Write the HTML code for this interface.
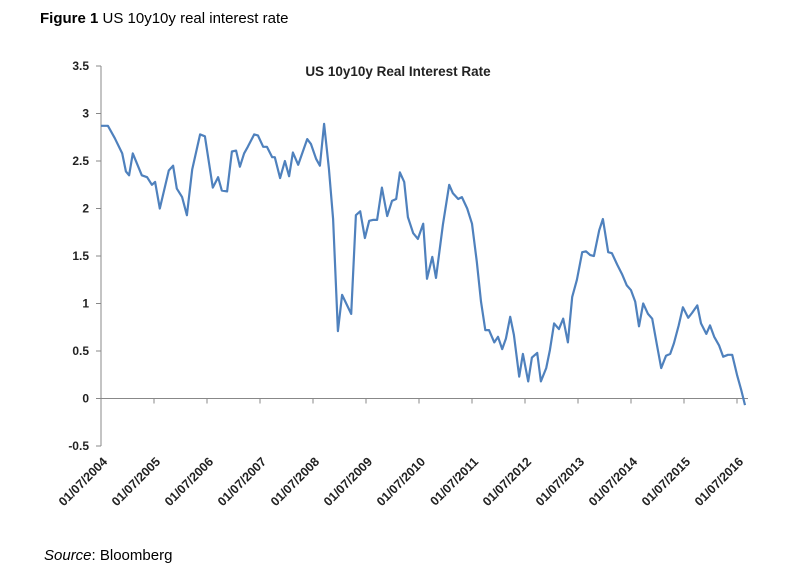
<!DOCTYPE html>
<html><head><meta charset="utf-8"><style>
body{margin:0;width:809px;height:576px;background:#fff;overflow:hidden;font-family:"Liberation Sans",Arial,sans-serif;}
#fig{position:absolute;left:40px;top:10px;font-size:15px;color:#000;}
#src{position:absolute;left:44px;top:547px;font-size:15px;color:#000;}
svg{position:absolute;left:0;top:0;}
</style></head><body>
<div id="fig"><b>Figure 1</b> US 10y10y real interest rate</div>
<svg id="chart" width="809" height="576"></svg>
<div id="src"><i>Source</i>: Bloomberg</div>
<script>
const yTicks=[3.5,3,2.5,2,1.5,1,0.5,0,-0.5];
const yTickLabels=["3.5","3","2.5","2","1.5","1","0.5","0","-0.5"];
const xTickYears=[2004,2005,2006,2007,2008,2009,2010,2011,2012,2013,2014,2015,2016];
const xTickLabels=xTickYears.map(y=>"01/07/"+y);
const dates=[2004.50,2004.63,2004.76,2004.90,2004.97,2005.03,2005.10,2005.27,2005.37,2005.46,2005.52,2005.61,2005.78,2005.86,2005.93,2006.03,2006.12,2006.22,2006.37,2006.46,2006.61,2006.71,2006.78,2006.88,2006.97,2007.05,2007.12,2007.20,2007.27,2007.39,2007.46,2007.56,2007.63,2007.73,2007.78,2007.88,2007.97,2008.05,2008.12,2008.22,2008.39,2008.46,2008.56,2008.63,2008.71,2008.80,2008.88,2008.97,2009.05,2009.22,2009.31,2009.39,2009.48,2009.56,2009.63,2009.71,2009.80,2009.90,2009.99,2010.07,2010.14,2010.22,2010.29,2010.39,2010.48,2010.58,2010.65,2010.75,2010.82,2010.95,2011.07,2011.14,2011.24,2011.31,2011.41,2011.50,2011.59,2011.67,2011.75,2011.82,2011.92,2011.99,2012.07,2012.14,2012.22,2012.29,2012.39,2012.46,2012.56,2012.63,2012.73,2012.80,2012.90,2012.97,2013.05,2013.14,2013.22,2013.31,2013.39,2013.48,2013.58,2013.65,2013.73,2013.80,2013.90,2013.97,2014.07,2014.14,2014.24,2014.33,2014.42,2014.50,2014.58,2014.65,2014.73,2014.82,2014.90,2014.99,2015.07,2015.16,2015.24,2015.31,2015.40,2015.48,2015.58,2015.65,2015.75,2015.82,2015.92,2015.99,2016.07,2016.16,2016.24,2016.33,2016.41,2016.50,2016.58,2016.65];
const rates=[2.87,2.87,2.74,2.58,2.39,2.35,2.58,2.35,2.33,2.25,2.28,2.00,2.40,2.45,2.21,2.12,1.93,2.41,2.78,2.76,2.22,2.33,2.19,2.18,2.60,2.61,2.44,2.58,2.65,2.78,2.77,2.65,2.65,2.54,2.54,2.32,2.50,2.34,2.59,2.46,2.73,2.68,2.52,2.45,2.89,2.42,1.89,0.71,1.09,0.89,1.93,1.97,1.69,1.87,1.88,1.88,2.22,1.92,2.08,2.10,2.38,2.28,1.91,1.74,1.68,1.84,1.26,1.49,1.27,1.83,2.25,2.16,2.10,2.12,2.00,1.84,1.44,1.02,0.72,0.72,0.59,0.65,0.52,0.63,0.86,0.67,0.23,0.47,0.18,0.43,0.48,0.18,0.32,0.51,0.79,0.73,0.84,0.59,1.07,1.25,1.54,1.55,1.51,1.50,1.77,1.89,1.54,1.53,1.41,1.31,1.19,1.14,1.02,0.76,1.00,0.89,0.84,0.56,0.32,0.45,0.47,0.58,0.77,0.96,0.85,0.90,0.98,0.79,0.68,0.77,0.65,0.56,0.44,0.46,0.46,0.25,0.09,-0.07];
const svg=document.getElementById('chart');const NS='http://www.w3.org/2000/svg';
const X0=101,Y0=398.5,PXY=53,PXV=95;
const xs=t=>X0+(t-2004.5)*PXY, ys=v=>Y0-v*PXV;
function mk(tag,attrs,parent){const e=document.createElementNS(NS,tag);for(const k in attrs)e.setAttribute(k,attrs[k]);(parent||svg).appendChild(e);return e;}
const yAxis=mk('line',{x1:X0,y1:ys(3.5),x2:X0,y2:ys(-0.5),stroke:'#888','stroke-width':1});


const xAxis=mk('line',{x1:X0-5,y1:Y0,x2:748,y2:Y0,stroke:'#888','stroke-width':1});


yTicks.forEach((v,i)=>{
 mk('line',{x1:X0-5,y1:ys(v),x2:X0,y2:ys(v),stroke:'#888'});
 const t=mk('text',{x:89,y:ys(v)+4,'text-anchor':'end','font-size':12,'font-weight':'bold',fill:'#222','font-family':'Liberation Sans, sans-serif'});
 t.textContent=yTickLabels[i];
 
 
});
xTickYears.forEach((y,i)=>{
 const x=xs(y+0.5);
 mk('line',{x1:x,y1:Y0,x2:x,y2:Y0+5,stroke:'#888'});
 const t=mk('text',{x:0,y:0,'text-anchor':'end','font-size':12.5,'font-weight':'bold',fill:'#222','font-family':'Liberation Sans, sans-serif',transform:`translate(${x+7},${Y0+64}) rotate(-45)`});
 t.textContent=xTickLabels[i];
 
 
});
const title=mk('text',{x:398,y:76,'text-anchor':'middle','font-size':13.5,'font-weight':'bold',fill:'#222','font-family':'Liberation Sans, sans-serif'});
title.textContent='US 10y10y Real Interest Rate';


const d=dates.map((t,i)=>(i?'L':'M')+xs(t).toFixed(1)+','+ys(rates[i]).toFixed(1)).join('');
const line=mk('path',{d:d,fill:'none',stroke:'#4f81bd','stroke-width':2.2,'stroke-linejoin':'round'});


</script>
</body></html>
